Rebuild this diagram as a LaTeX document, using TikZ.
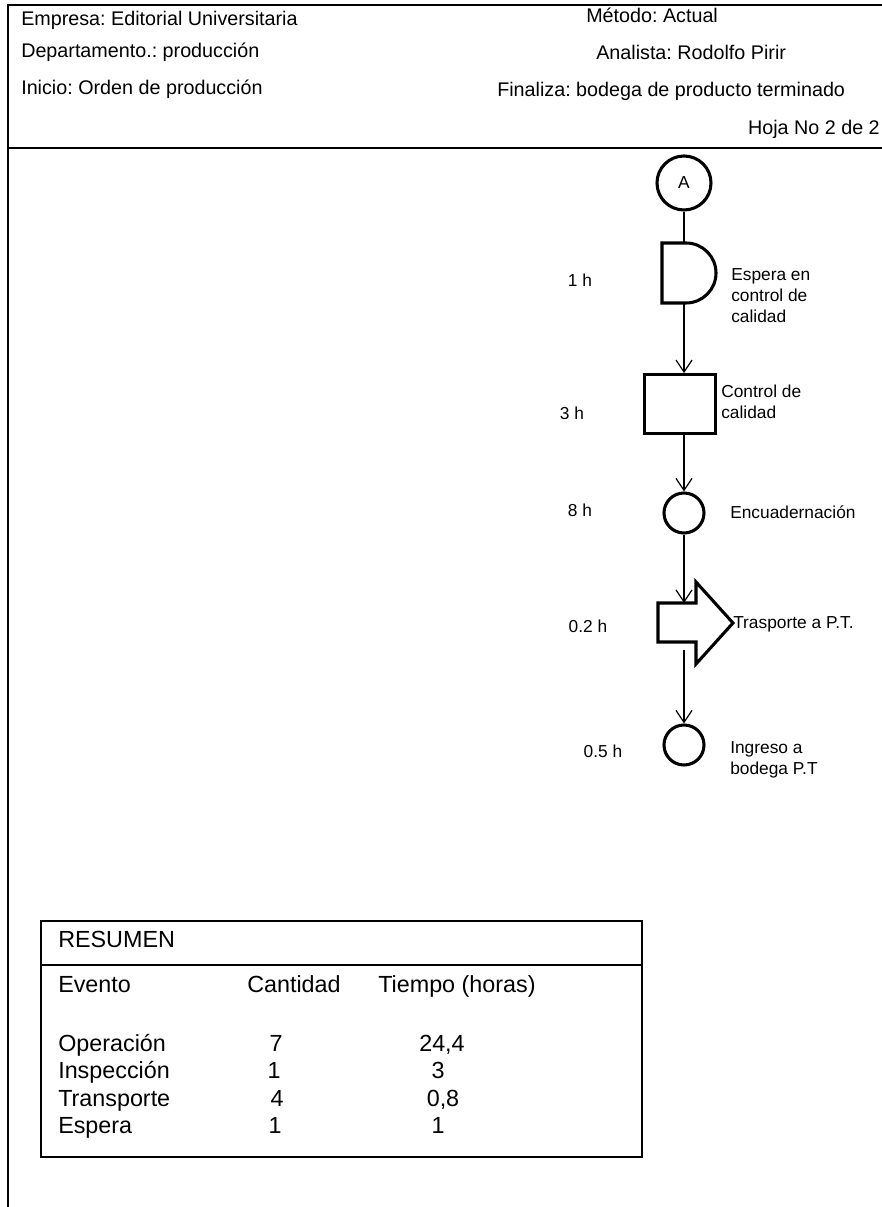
\documentclass[tikz,border=0pt]{standalone}
\usepackage{fontspec}
\setmainfont{Liberation Sans}
\usetikzlibrary{arrows.meta}
\frenchspacing

\begin{document}
\begin{tikzpicture}[x=0.75pt,y=0.75pt,
  hdr/.style={anchor=west,inner sep=0pt,text height=0.72em,text depth=0pt,font=\fontsize{14.8}{17}\selectfont},
  lbl/.style={anchor=west,inner sep=0pt,align=left,font=\fontsize{13}{15.8}\selectfont},
  hrs/.style={inner sep=0pt,text height=0.72em,text depth=0pt,font=\fontsize{13}{15.8}\selectfont},
  tab/.style={anchor=west,inner sep=0pt,text height=0.72em,text depth=0pt,font=\fontsize{17.5}{20}\selectfont},
  num/.style={inner sep=0pt,text height=0.72em,text depth=0pt,font=\fontsize{17.5}{20}\selectfont},
  sym/.style={draw,line width=2.3pt},
  opcirc/.style={sym,circle,inner sep=0pt,minimum size=30pt},
  ghost/.style={inner sep=0pt,outer sep=0pt},
  flow/.style={-{Straight Barb[length=9pt,width=12pt]},line width=0.9pt}
]
\useasboundingbox (0,0) rectangle (882,1207);

% encabezado
\draw[line width=1pt] (882,1202) -- (8,1202) -- (8,0);
\draw[line width=1pt] (8,1059) -- (882,1059);
\node[hdr] (emp) at (21,1186) {Empresa: Editorial Universitaria};
\node[hdr] (dep) at (21,1154) {Departamento.: producción};
\node[hdr] (ini) at (21,1117) {Inicio: Orden de producción};
\node[hdr] (met) at (586,1189) {Método: Actual};
\node[hdr] (ana) at (596,1152) {Analista: Rodolfo Pirir};
\node[hdr] (fin) at (497,1115) {Finaliza: bodega de producto terminado};
\node[hdr,anchor=east] (hoja) at (880,1077) {Hoja No 2 de 2};

% diagrama
\node[sym,circle,inner sep=0pt,minimum size=40.5pt,font=\fontsize{13}{15}\selectfont] (A) at (684,1024) {A};

\draw[sym] (662,964) -- (686,964) arc[start angle=90,end angle=-90,radius=22.5pt] -- (662,904) -- cycle;
\node[ghost,minimum width=40.5pt,minimum height=45pt] (espera) at (689,934) {};

\node[sym,inner sep=0pt,minimum width=53pt,minimum height=44pt] (ctrl) at (680,803) {};

\node[opcirc] (enc) at (684,694) {};

\draw[sym] (658,604) -- (696,604) -- (696,625) -- (733,584) -- (696,543) -- (696,565) -- (658,565) -- cycle;
\node[ghost,minimum width=56pt,minimum height=29.25pt] (trans) at (695,584.5) {};

\node[opcirc] (ing) at (684,462) {};

\draw[line width=0.9pt] (A) -- (A.south |- espera.north);
\draw[flow] (A.south |- espera.south) -- (A.south |- ctrl.north);
\draw[flow] (A.south |- ctrl.south) -- (enc);
\draw[flow] (enc) -- (enc.south |- trans.north);
\draw[flow,shorten <=6pt] (ing.north |- trans.south) -- (ing);

\node[hrs] (h1) at (580,925) {1 h};
\node[lbl] (l1) at (731,911) {Espera en\\control de\\calidad};
\node[hrs] (h2) at (572,792) {3 h};
\node[lbl] (l2) at (721,805) {Control de\\calidad};
\node[hrs] (h3) at (580,695) {8 h};
\node[lbl] (l3) at (730,695) {Encuadernación};
\node[hrs] (h4) at (588,579) {0.2 h};
\node[lbl] (l4) at (733,583) {Trasporte a P.T.};
\node[hrs] (h5) at (603,454) {0.5 h};
\node[lbl] (l5) at (730,447) {Ingreso a\\bodega P.T};

% resumen
\draw[line width=1pt] (41,286) rectangle (642,50);
\draw[line width=1pt] (41,242) -- (642,242);
\node[tab] (res) at (58,264) {RESUMEN};
\node[tab] (ev) at (58,219) {Evento};
\node[tab] (cant) at (247,219) {Cantidad};
\node[tab] (tiem) at (378,219) {Tiempo (horas)};
\node[tab] (r1) at (58,160) {Operación};
\node[tab] (r2) at (58,133) {Inspección};
\node[tab] (r3) at (58,105) {Transporte};
\node[tab] (r4) at (58,78) {Espera};
\node[num] (c1) at (276,160) {7};
\node[num] (c2) at (274,133) {1};
\node[num] (c3) at (277,105) {4};
\node[num] (c4) at (275,78) {1};
\node[num] (t1) at (442,160) {24,4};
\node[num] (t2) at (438,133) {3};
\node[num] (t3) at (443,105) {0,8};
\node[num] (t4) at (438,78) {1};
\end{tikzpicture}
\end{document}
